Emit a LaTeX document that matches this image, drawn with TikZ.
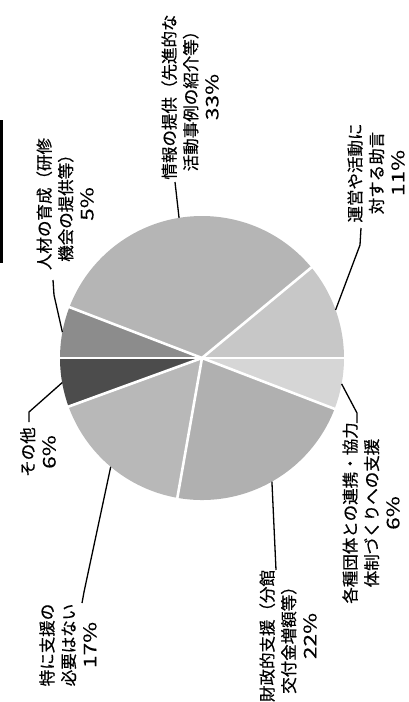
\documentclass[tikz,border=0pt]{standalone}
\usepackage{fontspec}
\setmainfont{Noto Sans CJK JP}[FakeBold=0.5]
\newfontfamily\pctfont{Noto Sans CJK JP}[FakeBold=0.2, FakeStretch=1.3]
\usepackage{tikz}

\newcommand{\pct}[1]{{\pctfont\fontsize{17.5}{21.5}\selectfont #1\%}}

\begin{document}
\begin{tikzpicture}[x=1pt,y=1pt,
        lbl/.style={rotate=90, align=center, inner sep=0pt,
            font=\fontsize{16.5}{21.5}\selectfont},
        lead/.style={black, line width=1.3pt},
        sep/.style={white, line width=2.6pt}]
    \useasboundingbox (0,0) rectangle (409,-702);
    % frame edge on the left
    \draw [black, line width=2.7pt] (1.5,-120) -- (1.5,-263);
    % pie
    \coordinate (c) at (202,-358);
    \fill [black!22] (c) -- ++(0:142) arc[start angle=0, end angle=39.6, radius=142] -- cycle;
    \fill [black!29] (c) -- ++(39.6:142) arc[start angle=39.6, end angle=159, radius=142] -- cycle;
    \fill [black!45] (c) -- ++(159:142) arc[start angle=159, end angle=180, radius=142] -- cycle;
    \fill [black!70] (c) -- ++(180:142) arc[start angle=180, end angle=200, radius=142] -- cycle;
    \fill [black!28] (c) -- ++(200:142) arc[start angle=200, end angle=260, radius=142] -- cycle;
    \fill [black!31] (c) -- ++(260:142) arc[start angle=260, end angle=339, radius=142] -- cycle;
    \fill [black!16] (c) -- ++(339:142) arc[start angle=339, end angle=360, radius=142] -- cycle;
    \draw [sep] (c) -- ++(0:143);
    \draw [sep] (c) -- ++(39.6:143);
    \draw [sep] (c) -- ++(159:143);
    \draw [sep] (c) -- ++(180:143);
    \draw [sep] (c) -- ++(200:143);
    \draw [sep] (c) -- ++(260:143);
    \draw [sep] (c) -- ++(339:143);
    % labels
    \node [lbl] (info) at (190,-97) {情報の提供（先進的な\\活動事例の紹介等）\\\pct{33}};
    \node [lbl] (advice) at (376,-173) {運営や活動に\\対する助言\\\pct{11}};
    \node [lbl] (network) at (371,-513) {各種団体との連携・協力\\体制づくりへの支援\\\pct{6}};
    \node [lbl] (finance) at (288,-636) {財政的支援（分館\\交付金増額等）\\\pct{22}};
    \node [lbl] (none) at (68,-645) {特に支援の\\必要はない\\\pct{17}};
    \node [lbl] (other) at (38,-452) {その他\\\pct{6}};
    \node [lbl] (training) at (65,-204) {人材の育成（研修\\機会の提供等）\\\pct{5}};
    % leaders
    \path (c) ++(19.8:142) coordinate (eadv);
    \path (c) ++(99.3:142) coordinate (einf);
    \path (c) ++(169.5:142) coordinate (etra);
    \path (c) ++(190:142) coordinate (eoth);
    \path (c) ++(230:142) coordinate (enon);
    \path (c) ++(299.5:142) coordinate (efin);
    \path (c) ++(349.5:142) coordinate (enet);
    \coordinate (kadv) at (361,-228);
    \coordinate (kinf) at (175,-182);
    \coordinate (ktra) at (53,-280);
    \coordinate (koth) at (29,-422);
    \coordinate (knon) at (82,-603);
    \coordinate (kfin) at (276,-570);
    \coordinate (knet) at (357,-423);
    \draw [lead] (eadv) -- (360,-245) -- (kadv);
    \draw [lead] (einf) -- (kinf);
    \draw [lead] (etra) -- (54,-295) -- (ktra);
    \draw [lead] (eoth) -- (29,-412) -- (koth);
    \draw [lead] (enon) -- (84,-592) -- (knon);
    \draw [lead] (efin) -- (kfin);
    \draw [lead] (enet) -- (357,-413) -- (knet);
\end{tikzpicture}
\end{document}
